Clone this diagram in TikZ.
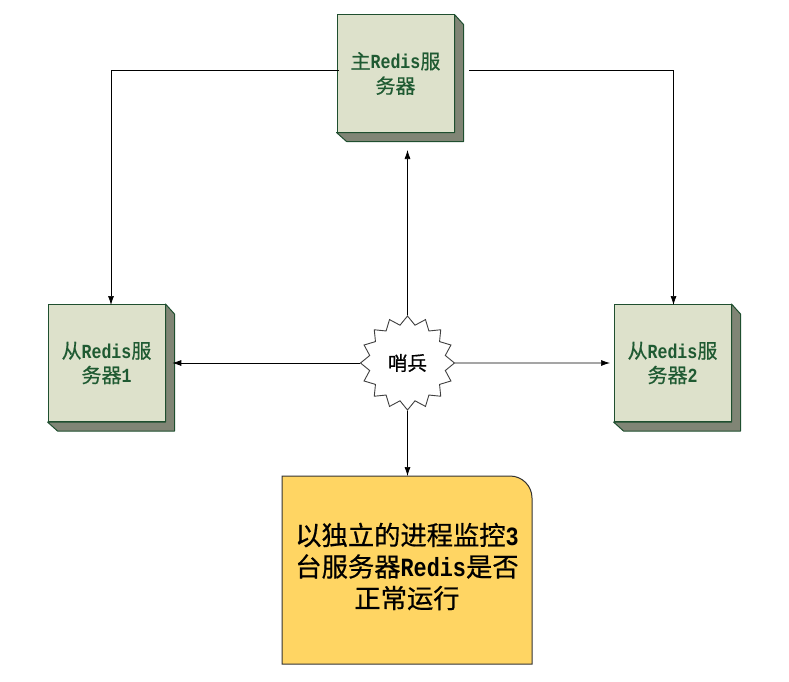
\documentclass[tikz,border=0pt]{standalone}
\usepackage{fontspec}
\usetikzlibrary{arrows.meta,shapes.geometric}
\setmainfont[FakeStretch=0.83]{Liberation Mono Bold}
\newfontfamily\cjk[FakeBold=0.6]{Noto Sans CJK SC}
\newcommand{\zh}[1]{{\cjk #1}}
\definecolor{boxgreen}{HTML}{DDE1CB}
\definecolor{edgegreen}{HTML}{1F4F2F}
\definecolor{sidegray}{HTML}{808575}
\definecolor{textgreen}{HTML}{1F5A32}
\definecolor{notegold}{HTML}{FFD563}
\tikzset{
    serverbox/.style={draw=edgegreen,fill=boxgreen,line width=1pt,minimum width=117,minimum height=117,inner sep=0,align=center,text=textgreen,font=\fontsize{20}{24.5}\selectfont},
    sidebox/.style={draw=edgegreen,fill=sidegray,line width=1pt,line join=round},
    sentry/.style={star,star points=16,star point ratio=1.22,minimum size=94,inner sep=0,draw=black!75,fill=white,line width=0.9pt,font=\fontsize{19.5}{22}\selectfont},
    notebox/.style={draw=black!80,fill=notegold,line width=1pt},
    notetext/.style={minimum width=250,minimum height=188,inner sep=0,align=center,font=\fontsize{26.3}{31.5}\selectfont},
    link/.style={draw=black,line width=0.7pt,-{Latex[length=9pt,width=6pt]}},
}
\begin{document}
\begin{tikzpicture}[x=1pt,y=-1pt]
    \useasboundingbox (0,0) rectangle (789,682);
    \node[serverbox] (master) at (395.5,73.5) {\zh{主}Redis\zh{服}\\\zh{务器}};
    \node[serverbox] (slaveA) at (106.5,363) {\zh{从}Redis\zh{服}\\\zh{务器}1};
    \node[serverbox] (slaveB) at (672.5,363) {\zh{从}Redis\zh{服}\\\zh{务器}2};
    \foreach \n in {master,slaveA,slaveB}
        \draw[sidebox] (\n.north east) -- ++(9,10) -- ++(0,117) -- ++(-117,0) -- (\n.south west) -- (\n.south east) -- cycle;
    \node[sentry] (sentry) at (407.5,363) {\zh{哨兵}};
    \draw[notebox] (282,664) -- (282,476) [rounded corners=22pt] -- (532,476) [sharp corners] -- (532,664) -- cycle;
    \node[notetext] (note) at (407,566.5) {\zh{以独立的进程监控}3\\\zh{台服务器}Redis\zh{是否}\\\zh{正常运行}};
    % free ends stop short of the boxes
    \coordinate (masterL) at (339,70);
    \coordinate (masterR) at (469,70);
    \coordinate (masterB) at (407.5,150);
    \coordinate (slaveAT) at (111,305);
    \coordinate (slaveBT) at (673.5,305);
    \coordinate (slaveBL) at (610,363);
    \coordinate (noteT) at (407.5,476);
    \draw[link] (masterL) -| (slaveAT);
    \draw[link] (masterR) -| (slaveBT);
    \draw[link] (sentry.north) -- (masterB);
    \draw[link] (sentry.west) -- ++(-187.5,0);
    \draw[link] (sentry.east) -- (slaveBL);
    \draw[link] (sentry.south) -- (noteT);
\end{tikzpicture}
\end{document}
